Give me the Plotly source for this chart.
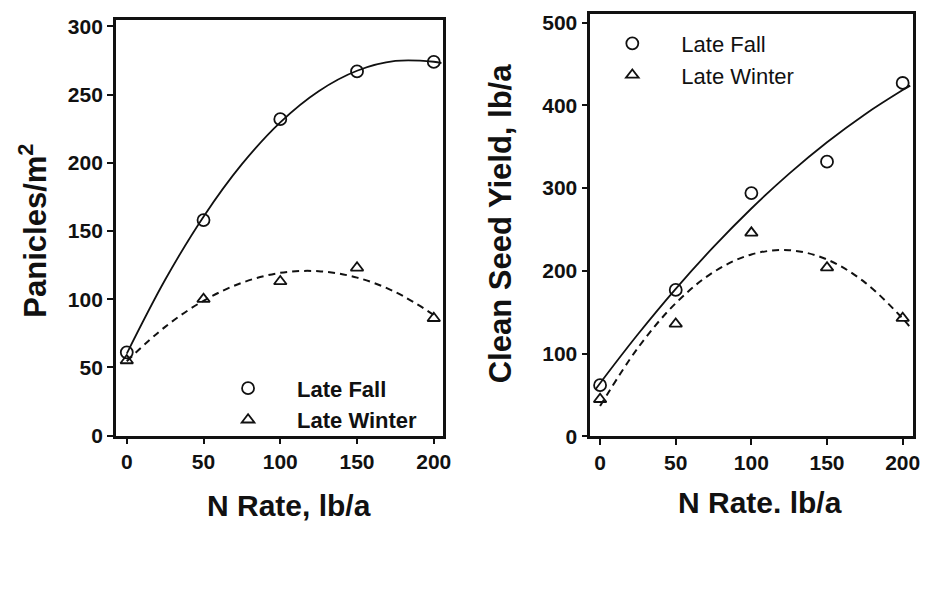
import plotly.graph_objects as go

W, H = 933, 616

# ---------------- data ----------------
n_rate = [0, 50, 100, 150, 200]
x_ticks = [0, 50, 100, 150, 200]

# Left panel: Panicles/m2
pan_fall = [61, 158, 232, 267, 274]
pan_winter = [55, 100, 113, 123, 86]
pan_curve_x = [0, 25, 50, 75, 100, 125, 150, 175, 200, 205]
pan_fall_curve = [60.1, 114.2, 160.5, 199.0, 229.7, 252.5, 267.5, 274.7, 274.1, 273.1]
pan_winter_curve_x = [0, 25, 50, 75, 100, 125, 150, 175, 200]
pan_winter_curve = [54.5, 79.7, 98.8, 112.0, 119.3, 120.5, 115.8, 105.2, 88.5]
pan_yticks = [0, 50, 100, 150, 200, 250, 300]

# Right panel: Clean seed yield, lb/a
yld_fall = [62, 177, 294, 332, 427]
yld_winter = [45, 136, 246, 204, 143]
yld_curve_x = [-3, 0, 25, 50, 75, 100, 125, 150, 175, 200, 205]
yld_fall_curve = [57.0, 64.4, 123.5, 178.4, 229.0, 275.4, 317.5, 355.4, 389.0, 418.4, 423.8]
yld_winter_curve_x = [0, 25, 50, 75, 100, 125, 150, 175, 200, 205]
yld_winter_curve = [36.8, 107.0, 161.0, 198.6, 219.9, 225.0, 213.8, 186.2, 142.5, 131.8]
yld_yticks = [0, 100, 200, 300, 400, 500]

series_names = ["Late Fall", "Late Winter"]

# ---------------- helpers ----------------
def px(x):
    return x / W

def py(y):
    return 1 - y / H

FONT = "Liberation Sans"
BLACK = "#111111"

fig = go.Figure()

# left panel
fig.add_trace(go.Scatter(x=pan_curve_x, y=pan_fall_curve, mode="lines", line_shape="spline",
                         line=dict(color=BLACK, width=1.8), showlegend=False,
                         xaxis="x", yaxis="y", hoverinfo="skip"))
fig.add_trace(go.Scatter(x=pan_winter_curve_x, y=pan_winter_curve, mode="lines", line_shape="spline",
                         line=dict(color=BLACK, width=2, dash="7px,5px"), showlegend=False,
                         xaxis="x", yaxis="y", hoverinfo="skip"))
fig.add_trace(go.Scatter(x=n_rate, y=pan_fall, mode="markers", name=series_names[0],
                         marker=dict(symbol="circle-open", size=12, color=BLACK, line=dict(width=1.8)),
                         xaxis="x", yaxis="y", legend="legend"))
fig.add_trace(go.Scatter(x=n_rate, y=pan_winter, mode="markers", name=series_names[1],
                         marker=dict(symbol="triangle-up-open", size=11, color=BLACK, line=dict(width=1.8)),
                         xaxis="x", yaxis="y", legend="legend"))

# right panel
fig.add_trace(go.Scatter(x=yld_curve_x, y=yld_fall_curve, mode="lines", line_shape="spline",
                         line=dict(color=BLACK, width=1.8), showlegend=False,
                         xaxis="x2", yaxis="y2", hoverinfo="skip"))
fig.add_trace(go.Scatter(x=yld_winter_curve_x, y=yld_winter_curve, mode="lines", line_shape="spline",
                         line=dict(color=BLACK, width=2, dash="7px,5px"), showlegend=False,
                         xaxis="x2", yaxis="y2", hoverinfo="skip"))
fig.add_trace(go.Scatter(x=n_rate, y=yld_fall, mode="markers", name=series_names[0],
                         marker=dict(symbol="circle-open", size=12, color=BLACK, line=dict(width=1.8)),
                         xaxis="x2", yaxis="y2", legend="legend2"))
fig.add_trace(go.Scatter(x=n_rate, y=yld_winter, mode="markers", name=series_names[1],
                         marker=dict(symbol="triangle-up-open", size=11, color=BLACK, line=dict(width=1.8)),
                         xaxis="x2", yaxis="y2", legend="legend2"))

tickfont = dict(family=FONT, size=21, color=BLACK, weight="bold")
axis_common = dict(showline=True, linecolor=BLACK, linewidth=2.5, mirror=True,
                   ticks="outside", ticklen=6, tickwidth=2, tickcolor=BLACK,
                   showgrid=False, zeroline=False, tickfont=tickfont)

fig.update_layout(
    width=W, height=H,
    margin=dict(l=0, r=0, t=0, b=0),
    paper_bgcolor="white", plot_bgcolor="white",
    xaxis=dict(domain=[px(117), px(447)], range=[-7.1, 205.8], tickvals=x_ticks,
               anchor="y", **axis_common),
    yaxis=dict(domain=[py(442), py(15)], range=[0, 305], tickvals=pan_yticks,
               anchor="x", **axis_common),
    xaxis2=dict(domain=[px(596), px(922)], range=[-6.5, 206.9], tickvals=x_ticks,
                anchor="y2", **axis_common),
    yaxis2=dict(domain=[py(443), py(9)], range=[0, 510.6], tickvals=yld_yticks,
                anchor="x2", **axis_common),
    legend=dict(x=px(201), y=py(372), xanchor="left", yanchor="top",
                bgcolor="rgba(0,0,0,0)", itemwidth=88,
                font=dict(family=FONT, size=22, color=BLACK, weight="bold")),
    legend2=dict(x=px(589), y=py(18), xanchor="left", yanchor="top",
                 bgcolor="rgba(0,0,0,0)", itemwidth=88,
                 font=dict(family=FONT, size=22, color=BLACK)),
    annotations=[
        dict(text="Panicles/m<sup>2</sup>", textangle=-90, x=px(33), y=py(232),
             xref="paper", yref="paper", showarrow=False, xanchor="center", yanchor="middle",
             font=dict(family=FONT, size=31, color=BLACK, weight="bold")),
        dict(text="N Rate, lb/a", x=px(292), y=py(514),
             xref="paper", yref="paper", showarrow=False, xanchor="center", yanchor="middle",
             font=dict(family=FONT, size=30, color=BLACK, weight="bold")),
        dict(text="Clean Seed Yield, lb/a", textangle=-90, x=px(505), y=py(225),
             xref="paper", yref="paper", showarrow=False, xanchor="center", yanchor="middle",
             font=dict(family=FONT, size=31, color=BLACK, weight="bold")),
        dict(text="N Rate. lb/a", x=px(767), y=py(511),
             xref="paper", yref="paper", showarrow=False, xanchor="center", yanchor="middle",
             font=dict(family=FONT, size=30, color=BLACK, weight="bold")),
    ],
)

fig.write_html("out.html")
